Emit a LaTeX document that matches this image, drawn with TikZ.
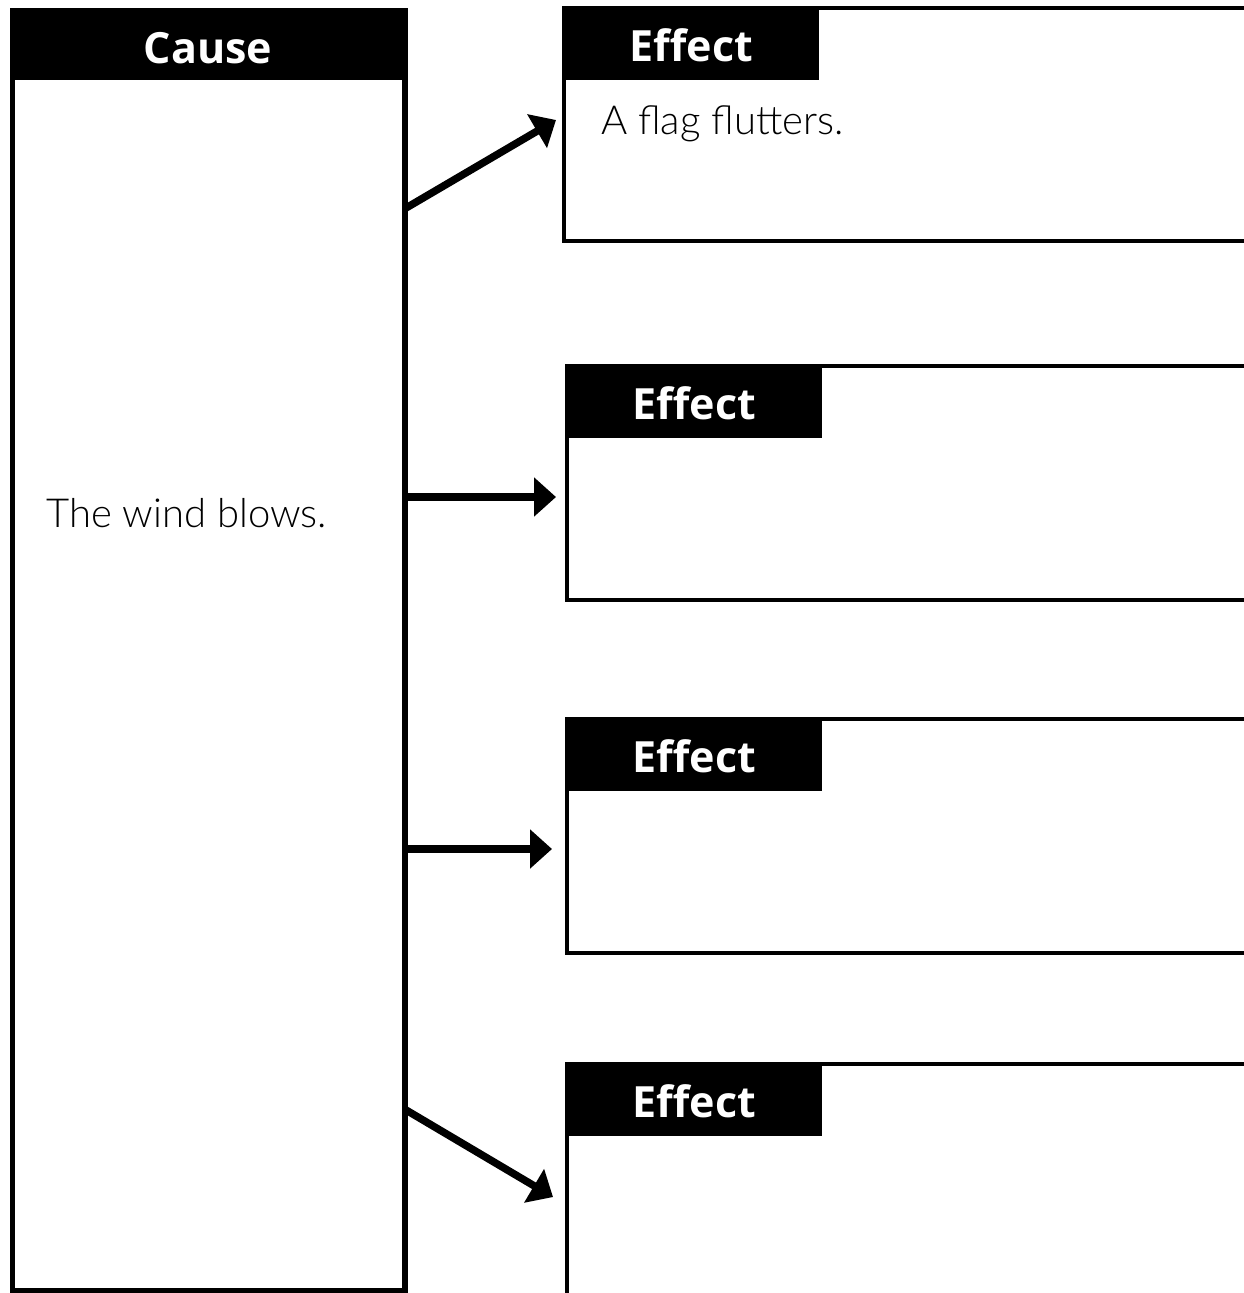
\documentclass[tikz,border=0pt]{standalone}
\usepackage{fontspec}
\setmainfont{Open Sans}
\newfontfamily\handfont{Lato}[UprightFont=* Light]
\usetikzlibrary{arrows.meta}
\begin{document}
\begin{tikzpicture}[x=1pt,y=-1pt,
  frame/.style={line width=4.5pt,line join=miter},
  headfill/.style={fill=black},
  headtext/.style={text=white,font=\fontsize{43}{48}\selectfont\bfseries,anchor=center,inner sep=0pt},
  handtext/.style={font=\handfont\fontsize{40}{46}\selectfont,anchor=base west,inner sep=0pt},
  link/.style={line width=7.5pt,-{Triangle[length=22pt,width=38pt]}}]
\useasboundingbox (0,0) rectangle (1244,1293);

% cause column
\draw[frame,line width=5.5pt] (12.5,11) rectangle (405,1290.5);
\fill[headfill] (10,9) rectangle (407,80);
\node[headtext] (causehead) at (208,48) {Cause};
\node[handtext] (causetext) at (46,527) {The wind blows.};

% effect boxes (open on the right)
\foreach \top/\hx/\lx/\bot/\n in {8/562/564/241/1, 366/565/567/600/2, 719/565/567/953/3, 1064/565/567/1300/4}{
  \draw[frame] (1250,\top) -- (\lx,\top) -- (\lx,\bot) -- (1250,\bot);
  \fill[headfill] (\hx,\top-2) rectangle (\hx+257,\top+72);
  \node[headtext] (effhead\n) at (\hx+129,\top+37) {Effect};
}
\node[handtext] (efftext1) at (601,134) {A flag flutters.};

% connector ends
\coordinate (c1) at (406,208);
\coordinate (c2) at (406,497);
\coordinate (c3) at (406,849);
\coordinate (c4) at (406,1110);
\coordinate (e1) at (556,120);
\coordinate (e2) at (556,497);
\coordinate (e3) at (552,849);
\coordinate (e4) at (553,1197);

\draw[link] (c1) -- (e1);
\draw[link] (c2) -- (e2);
\draw[link] (c3) -- (e3);
\draw[link] (c4) -- (e4);
\end{tikzpicture}
\end{document}
